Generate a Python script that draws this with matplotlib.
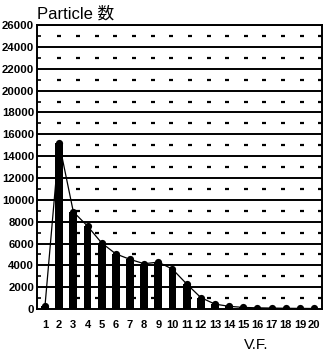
import numpy as np
import matplotlib
matplotlib.use("Agg")
import matplotlib.pyplot as plt

plt.rcParams['font.family'] = ['Liberation Sans', 'Noto Sans CJK JP', 'DejaVu Sans']

vf = list(range(1, 21))
counts = [300, 15200, 8900, 7600, 6050, 5050, 4550, 4150, 4300, 3650,
          2300, 1050, 450, 250, 150, 110, 90, 70, 60, 50]
yticks = list(range(0, 26001, 2000))
ytick_labels = [str(v) for v in yticks]
title = "Particle 数"
xlabel = "V.F."

fig = plt.figure(figsize=(3.24, 3.54), dpi=100)
ax = fig.add_axes([0.114, 0.127, 0.880, 0.802])

# horizontal grid
for y in yticks[1:]:
    ax.axhline(y, color='black', lw=1.4, zorder=1)
# dotted vertical pattern
dot_x = np.linspace(2, 20.45, 15)
dot_y = np.arange(1000, 26000, 2000)
DX, DY = np.meshgrid(dot_x, dot_y)
ax.plot(DX.ravel(), DY.ravel(), ls='none', marker='_', ms=3, mew=1.6, color='black', zorder=1)

ax.bar(vf, counts, width=0.55, color='black', zorder=2)
ax.plot(vf, counts, color='black', lw=0.9, marker='o', ms=5.2, mew=0, zorder=3)

ax.set_xlim(0.43, 20.56)
ax.set_ylim(0, 26000)
ax.set_xticks(vf)
ax.set_xticklabels([str(v) for v in vf], fontsize=8, fontweight='bold')
ax.set_yticks(yticks)
ax.set_yticklabels(ytick_labels, fontsize=8.2, fontweight='bold')
ax.set_yticks(dot_y, minor=True)
ax.tick_params(axis='y', which='major', length=0, pad=2)
ax.tick_params(axis='y', which='minor', direction='in', length=3, width=1.2)
ax.tick_params(axis='x', length=0, pad=8)
for s in ax.spines.values():
    s.set_linewidth(1.4)

fig.text(0.114, 0.948, title, fontsize=12, ha='left', va='baseline')
fig.text(0.79, 0.014, xlabel, fontsize=11, ha='center', va='baseline')

fig.savefig("out.png", dpi=100)
